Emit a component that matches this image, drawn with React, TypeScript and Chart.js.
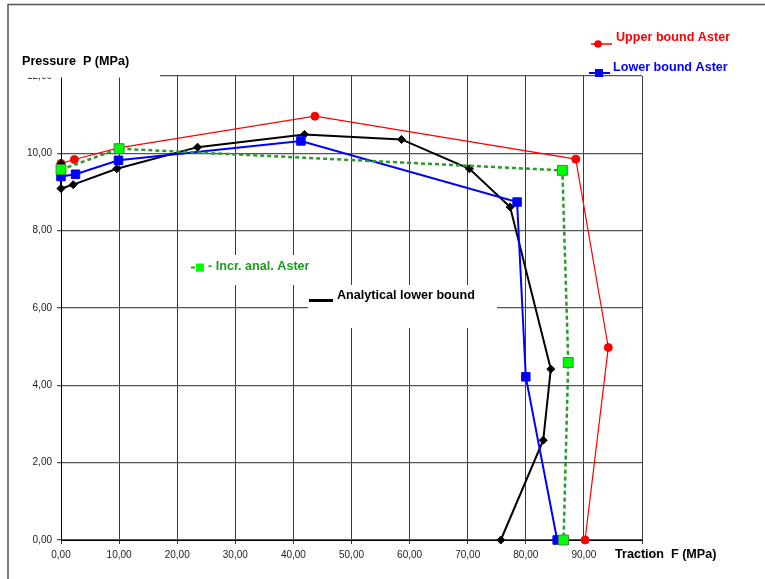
import { useEffect, useRef } from 'react';
import { Chart, registerables } from 'chart.js';
Chart.register(...registerables);

// Upper bound Aster
const upperF = [0, 2.3, 9.9, 43.7, 88.6, 94.2, 90.2];
const upperP = [9.74, 9.84, 10.14, 10.96, 9.85, 4.98, 0];
// Lower bound Aster
const lowerF = [0, 2.5, 9.9, 41.3, 78.5, 80.0, 85.4];
const lowerP = [9.4, 9.46, 9.82, 10.32, 8.74, 4.22, 0];
// Incr. anal. Aster
const incrF = [0, 10, 86.3, 87.3, 86.5];
const incrP = [9.58, 10.12, 9.56, 4.59, 0];
// Analytical lower bound
const analF = [0, 0, 2.1, 9.6, 23.5, 41.9, 58.6, 70.3, 77.3, 84.3, 83.0, 75.7];
const analP = [9.74, 9.09, 9.19, 9.6, 10.16, 10.49, 10.36, 9.6, 8.61, 4.42, 2.58, 0];

const xRange = [0, 100];
const yRange = [0, 12];
const xStep = 10;
const yStep = 2;

const xTitle = 'Traction  F (MPa)';
const yTitle = 'Pressure  P (MPa)';
const upperLabel = 'Upper bound Aster';
const lowerLabel = 'Lower bound Aster';
const incrLabel = '- Incr. anal. Aster';
const analLabel = 'Analytical lower bound';

const fmt = (v: number) => v.toFixed(2).replace('.', ',');
const pts = (xs: number[], ys: number[]) => xs.map((x, i) => ({ x, y: ys[i] }));

const FONT = 'Arial, "Liberation Sans", sans-serif';

const overlay = {
  id: 'overlay',
  afterDraw(chart: any) {
    const ctx = chart.ctx as CanvasRenderingContext2D;
    ctx.save();
    // outer frame
    ctx.strokeStyle = '#555';
    ctx.lineWidth = 1.5;
    ctx.beginPath();
    ctx.moveTo(8, 579);
    ctx.lineTo(8, 4.5);
    ctx.lineTo(765, 4.5);
    ctx.stroke();

    // white boxes
    ctx.fillStyle = '#fff';
    ctx.fillRect(18, 48, 142, 29.5);
    ctx.fillRect(186, 255, 160, 30);
    ctx.fillRect(308, 285, 189, 43);
    ctx.fillStyle = 'rgba(255,255,255,0.8)';
    ctx.fillRect(611, 546, 112, 19);

    ctx.textBaseline = 'middle';
    ctx.textAlign = 'left';
    ctx.font = `bold 12.6px ${FONT}`;

    // axis titles
    ctx.fillStyle = '#000';
    ctx.fillText(yTitle, 22, 62);
    ctx.fillText(xTitle, 615, 555);

    // Upper bound legend
    ctx.strokeStyle = '#ff0000';
    ctx.lineWidth = 1.5;
    ctx.beginPath();
    ctx.moveTo(591, 44);
    ctx.lineTo(612, 44);
    ctx.stroke();
    ctx.fillStyle = '#ff0000';
    ctx.beginPath();
    ctx.arc(598, 44, 3.8, 0, Math.PI * 2);
    ctx.fill();
    ctx.fillText(upperLabel, 616, 38);

    // Lower bound legend
    ctx.strokeStyle = '#0000ff';
    ctx.lineWidth = 2;
    ctx.beginPath();
    ctx.moveTo(589, 73);
    ctx.lineTo(610, 73);
    ctx.stroke();
    ctx.fillStyle = '#0000ff';
    ctx.fillRect(595, 69, 8, 8);
    ctx.fillText(lowerLabel, 613, 67.5);

    // Incr. legend
    ctx.strokeStyle = '#2a9a2a';
    ctx.lineWidth = 2;
    ctx.beginPath();
    ctx.moveTo(191, 267.5);
    ctx.lineTo(195, 267.5);
    ctx.stroke();
    ctx.fillStyle = '#00ff00';
    ctx.fillRect(196, 263.5, 8, 8);
    ctx.fillStyle = '#1f9a1f';
    ctx.fillText(incrLabel, 208, 267);

    // Analytical legend
    ctx.strokeStyle = '#000';
    ctx.lineWidth = 3;
    ctx.beginPath();
    ctx.moveTo(309, 300.5);
    ctx.lineTo(333, 300.5);
    ctx.stroke();
    ctx.fillStyle = '#000';
    ctx.fillText(analLabel, 337, 295.5);

    ctx.restore();
  },
};

export default function App() {
  const ref = useRef<HTMLCanvasElement | null>(null);
  useEffect(() => {
    if (!ref.current) return;
    const chart = new Chart(ref.current, {
      type: 'scatter',
      data: {
        datasets: [
          {
            label: 'Incr. anal. Aster',
            data: pts(incrF, incrP),
            showLine: true,
            clip: false,
            borderColor: '#2a9a2a',
            borderWidth: 2.5,
            borderDash: [4, 3],
            pointStyle: 'rect',
            pointRadius: 7,
            pointBackgroundColor: '#00ff00',
            pointBorderColor: '#3a8a3a',
            pointBorderWidth: 1,
          },
          {
            label: 'Lower bound Aster',
            data: pts(lowerF, lowerP),
            showLine: true,
            clip: false,
            borderColor: '#0000ff',
            borderWidth: 2,
            pointStyle: 'rect',
            pointRadius: 6,
            pointBackgroundColor: '#0000ff',
            pointBorderColor: '#0000ff',
            pointBorderWidth: 1,
          },
          {
            label: 'Analytical lower bound',
            data: pts(analF, analP),
            showLine: true,
            clip: false,
            borderColor: '#000',
            borderWidth: 2,
            pointStyle: 'rectRot',
            pointRadius: 4,
            pointBackgroundColor: '#000',
            pointBorderColor: '#000',
            pointBorderWidth: 1,
          },
          {
            label: 'Upper bound Aster',
            data: pts(upperF, upperP),
            showLine: true,
            clip: false,
            borderColor: '#ff0000',
            borderWidth: 1.2,
            pointStyle: 'circle',
            pointRadius: 4,
            pointBackgroundColor: '#ff0000',
            pointBorderColor: '#ff0000',
            pointBorderWidth: 1,
          },
        ],
      },
      options: {
        responsive: false,
        animation: false,
        events: [],
        layout: { padding: { top: 76, right: 123, left: 0, bottom: 0 } },
        plugins: { legend: { display: false }, tooltip: { enabled: false } },
        scales: {
          x: {
            type: 'linear',
            min: xRange[0],
            max: xRange[1],
            ticks: {
              stepSize: xStep,
              callback: (v: any) => fmt(Number(v)),
              font: { family: FONT, size: 10 },
              color: '#222',
              padding: 5,
              maxRotation: 0,
            },
            grid: { color: '#3a3a3a', lineWidth: 1, tickLength: 4 },
            border: { color: '#000', width: 1 },
            afterFit: (s: any) => {
              s.height = 39;
            },
          },
          y: {
            type: 'linear',
            min: yRange[0],
            max: yRange[1],
            ticks: {
              stepSize: yStep,
              callback: (v: any) => fmt(Number(v)),
              font: { family: FONT, size: 10 },
              color: '#222',
              padding: 5,
            },
            grid: { color: '#555', lineWidth: 1.3, tickLength: 4 },
            border: { color: '#000', width: 1 },
            afterFit: (s: any) => {
              s.width = 61;
            },
          },
        },
      },
      plugins: [overlay],
    });
    return () => chart.destroy();
  }, []);
  return (
    <div style={{ position: 'fixed', left: 0, top: 0, width: 765, height: 579, background: '#fff' }}>
      <canvas ref={ref} width={765} height={579} style={{ display: 'block' }} />
    </div>
  );
}
